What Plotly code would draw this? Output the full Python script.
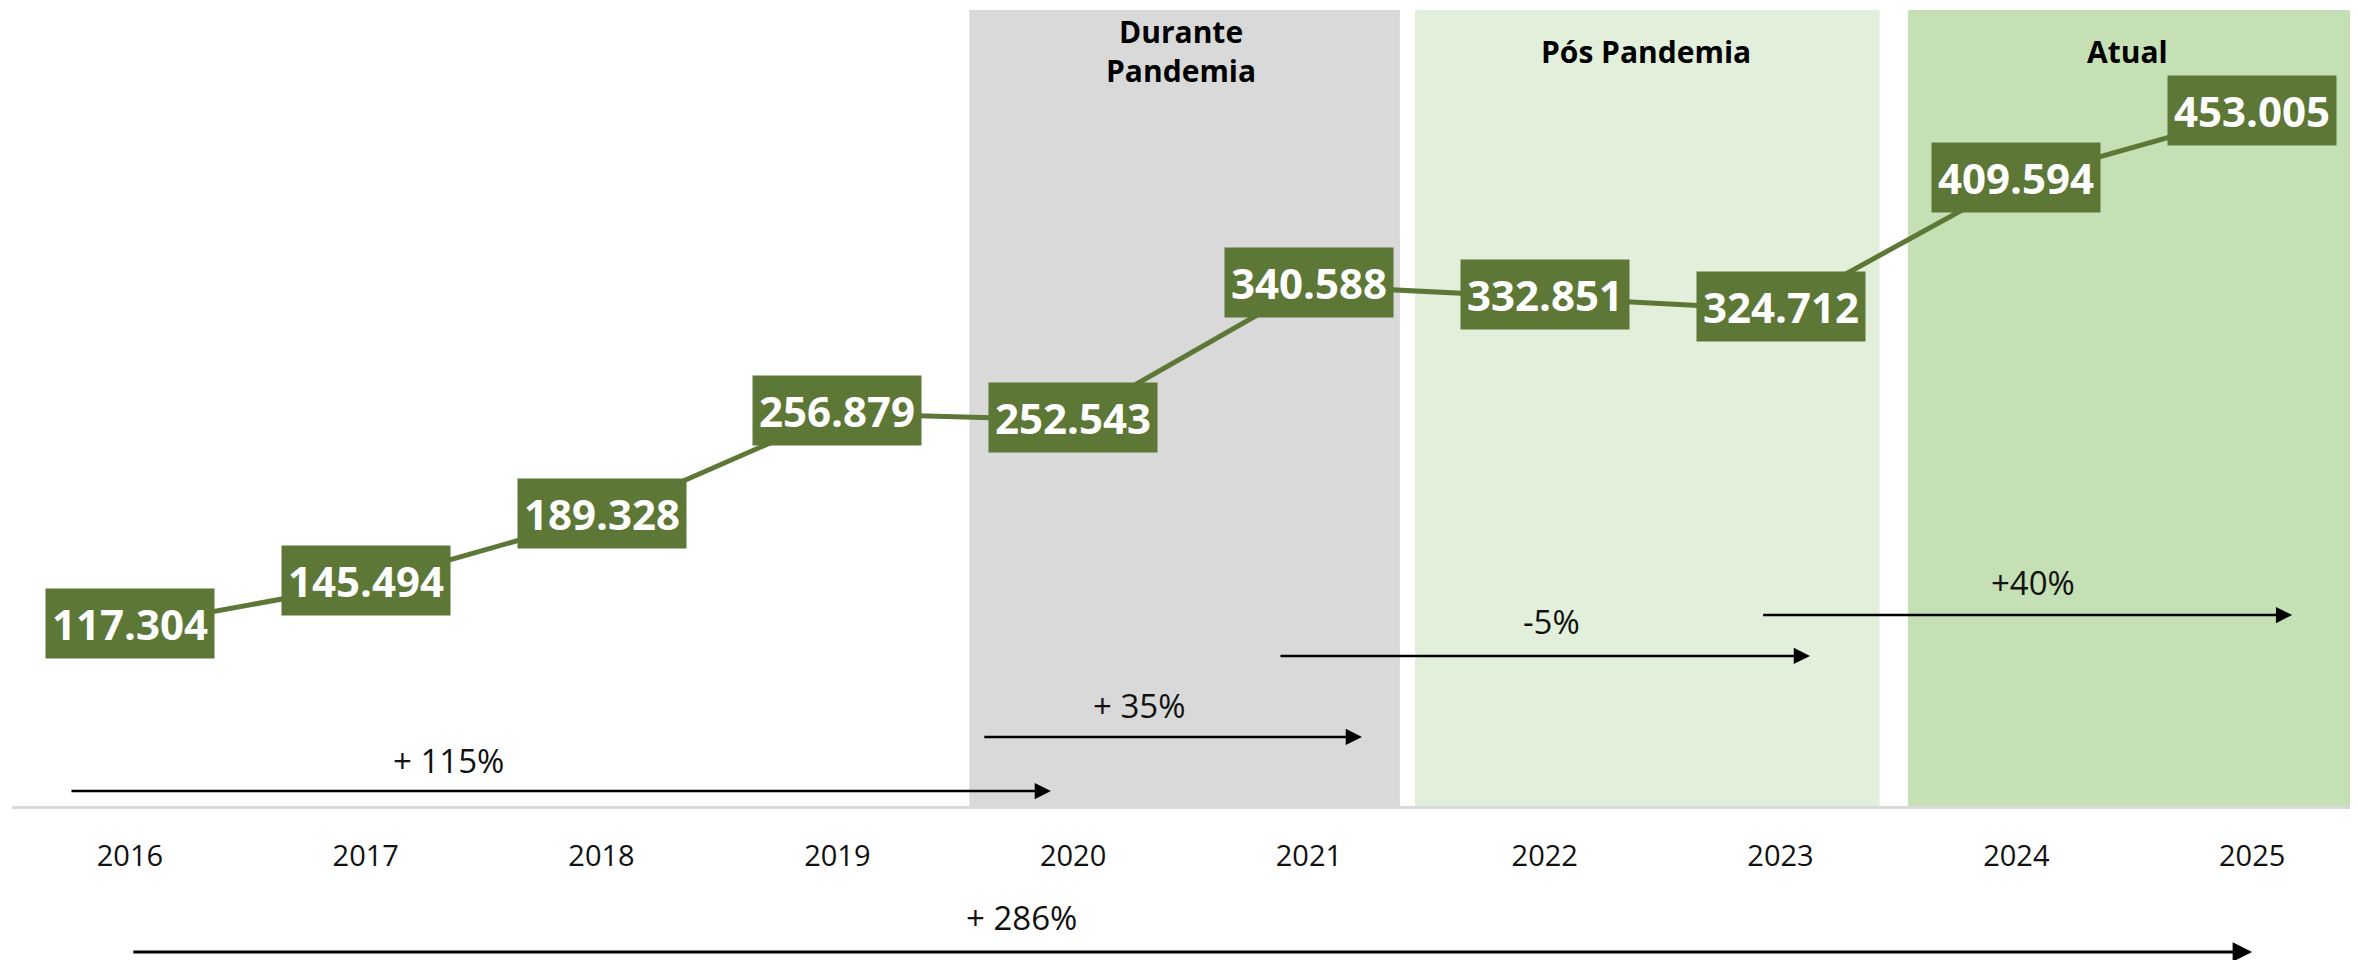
import plotly.graph_objects as go

years = ["2016", "2017", "2018", "2019", "2020", "2021", "2022", "2023", "2024", "2025"]
values = [117304, 145494, 189328, 256879, 252543, 340588, 332851, 324712, 409594, 453005]

period_names = ["Durante<br>Pandemia", "Pós Pandemia", "Atual"]
growth_labels = ["+ 115%", "+ 35%", "-5%", "+40%", "+ 286%"]

GREEN = "#5D7736"
FONT = "Open Sans, Montserrat, sans-serif"

xs = list(range(len(years)))

fig = go.Figure()
fig.add_trace(go.Scatter(x=xs, y=values, mode="lines",
                         line=dict(color=GREEN, width=5), hoverinfo="skip",
                         showlegend=False))

# Period bands
bands = [(3.56, 5.386, "#D9D9D9"), (5.45, 7.42, "#E2EFDA"), (7.54, 9.449, "#C5E0B4")]
for x0, x1, c in bands:
    fig.add_shape(type="rect", xref="x", yref="paper", x0=x0, x1=x1, y0=0, y1=1,
                  fillcolor=c, line=dict(width=0), layer="below")

header_x = [4.457, 6.43, 8.47]
for name, hx in zip(period_names, header_x):
    fig.add_annotation(x=hx, y=494000, text="<b>" + name + "</b>", showarrow=False,
                       font=dict(family=FONT, size=30, color="#000000"),
                       xanchor="center", yanchor="middle")

# Value labels
for xi, v in zip(xs, values):
    fig.add_annotation(x=xi, y=v, text="<b>" + f"{v:,}".replace(",", ".") + "</b>",
                       showarrow=False, bgcolor=GREEN,
                       font=dict(family=FONT, size=42, color="white"),
                       borderpad=6, xanchor="center", yanchor="middle", yshift=3)

# Growth arrows inside plot (start, end, y, label x, label y)
arrows = [(-0.254, 3.906, 9800, 1.35, 29500),
          (3.617, 5.225, 45200, 4.28, 66000),
          (4.873, 7.125, 98200, 6.03, 121000),
          (6.92, 9.17, 125000, 8.07, 146600)]
for (x0, x1, ya, lx, ly), lab in zip(arrows, growth_labels[:4]):
    fig.add_annotation(x=x1, y=ya, ax=x0, ay=ya, axref="x", ayref="y", xref="x", yref="y",
                       text="", showarrow=True, arrowhead=2, arrowsize=1.3,
                       arrowwidth=2.5, arrowcolor="#000000", standoff=0, startstandoff=0)
    fig.add_annotation(x=lx, y=ly, text=lab, showarrow=False,
                       font=dict(family=FONT, size=33, color="#111111"),
                       xanchor="center", yanchor="middle")

# Overall arrow below the axis (paper coordinates)
fig.add_annotation(x=9.0, y=-0.1834, ax=0.008, ay=0, xref="x", yref="paper",
                   axref="x", ayref="pixel", text="", showarrow=True, arrowhead=2,
                   arrowsize=1.3, arrowwidth=3, arrowcolor="#000000",
                   standoff=0, startstandoff=0)
fig.add_annotation(x=3.78, y=-0.1407, xref="x", yref="paper", text=growth_labels[4],
                   showarrow=False, font=dict(family=FONT, size=33, color="#111111"),
                   xanchor="center", yanchor="middle")

fig.update_layout(
    width=2350, height=952,
    margin=dict(l=4, r=0, t=2, b=154),
    plot_bgcolor="white", paper_bgcolor="white",
    xaxis=dict(range=[-0.5, 9.449], tickvals=xs, ticktext=years, showgrid=False,
               zeroline=False, showline=True, linecolor="#D9D9D9", linewidth=3,
               ticks="", tickfont=dict(family=FONT, size=29, color="#111111"),
               ticklabelstandoff=22, fixedrange=True),
    yaxis=dict(range=[0, 521000], visible=False, showgrid=False, zeroline=False,
               fixedrange=True),
    showlegend=False,
)

fig.write_html("out.html")
